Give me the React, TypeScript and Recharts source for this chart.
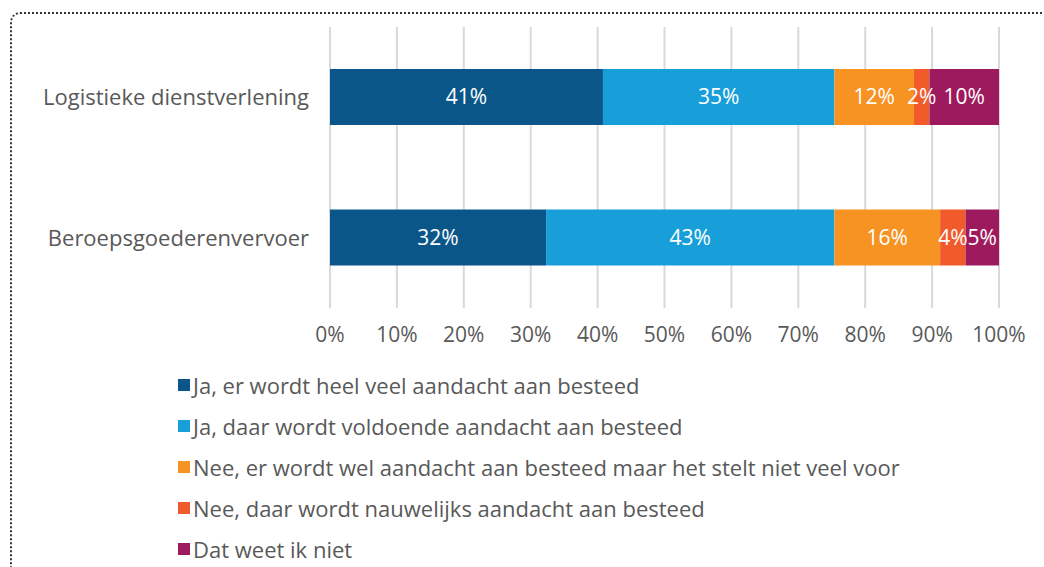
import { Bar, BarChart, CartesianGrid, LabelList, Legend, XAxis, YAxis } from "recharts";

const categories = ["Logistieke dienstverlening", "Beroepsgoederenvervoer"];
const seriesNames = [
  "Ja, er wordt heel veel aandacht aan besteed",
  "Ja, daar wordt voldoende aandacht aan besteed",
  "Nee, er wordt wel aandacht aan besteed maar het stelt niet veel voor",
  "Nee, daar wordt nauwelijks aandacht aan besteed",
  "Dat weet ik niet",
];
const heelVeel = [40.8, 32.3];
const voldoende = [34.6, 43.1];
const stelNietVeelVoor = [11.9, 15.8];
const nauwelijks = [2.3, 3.8];
const weetNiet = [10.4, 5.0];
const ticks = [0, 10, 20, 30, 40, 50, 60, 70, 80, 90, 100];

const COLORS = ["#0b5689", "#189fd9", "#f69322", "#f15a2b", "#9e1a5e"];
const KEYS = ["s0", "s1", "s2", "s3", "s4"];
const TEXT = "#595959";
const FONT = "'Open Sans', sans-serif";

const seriesValues = [heelVeel, voldoende, stelNietVeelVoor, nauwelijks, weetNiet];
const data = categories.map((name, i) => {
  const row: Record<string, string | number> = { name };
  KEYS.forEach((k, s) => (row[k] = seriesValues[s][i]));
  return row;
});

function LegendBox() {
  return (
    <div style={{ fontFamily: FONT, fontSize: 22, color: TEXT }}>
      {seriesNames.map((n, i) => (
        <div key={n} style={{ display: "flex", alignItems: "center", height: 41, whiteSpace: "nowrap" }}>
          <span style={{ width: 12, height: 12, background: COLORS[i], marginRight: 3, display: "inline-block" }} />
          {n}
        </div>
      ))}
    </div>
  );
}

export default function App() {
  return (
    <div style={{ position: "fixed", left: 0, top: 0, width: 1044, height: 567, overflow: "hidden", background: "#fff" }}>
      <div
        style={{
          position: "absolute",
          left: 10,
          top: 12,
          width: 1100,
          height: 700,
          border: "2px dotted #333",
          borderRadius: 10,
        }}
      />
      <div style={{ position: "absolute", left: 0, top: 0 }}>
        <BarChart
          width={1044}
          height={567}
          data={data}
          layout="vertical"
          margin={{ top: 27, right: 45, bottom: 229, left: 0 }}
          style={{ fontFamily: FONT }}
        >
          <CartesianGrid horizontal={false} stroke="#d9d9d9" strokeWidth={2} />
          <XAxis
            type="number"
            domain={[0, 100]}
            ticks={ticks}
            tickFormatter={(v) => `${v}%`}
            axisLine={false}
            tickLine={false}
            tickSize={0}
            tickMargin={19}
            tick={{ fill: TEXT, fontSize: 21 }}
            height={30}
            interval={0}
          />
          <YAxis
            type="category"
            dataKey="name"
            width={330}
            axisLine={false}
            tickLine={false}
            tickSize={0}
            tickMargin={21}
            tick={{ fill: TEXT, fontSize: 22 }}
          />
          {KEYS.map((k, i) => (
            <Bar key={k} dataKey={k} name={seriesNames[i]} stackId="a" fill={COLORS[i]} barSize={56} isAnimationActive={false}>
              <LabelList
                dataKey={k}
                position="center"
                fill="#fff"
                fontSize={21}
                formatter={(v: number) => `${Math.round(v)}%`}
              />
            </Bar>
          ))}
          <Legend
            layout="vertical"
            align="center"
            verticalAlign="middle"
            wrapperStyle={{ left: 178, top: 364, width: 840 }}
            content={() => <LegendBox />}
          />
        </BarChart>
      </div>
    </div>
  );
}
